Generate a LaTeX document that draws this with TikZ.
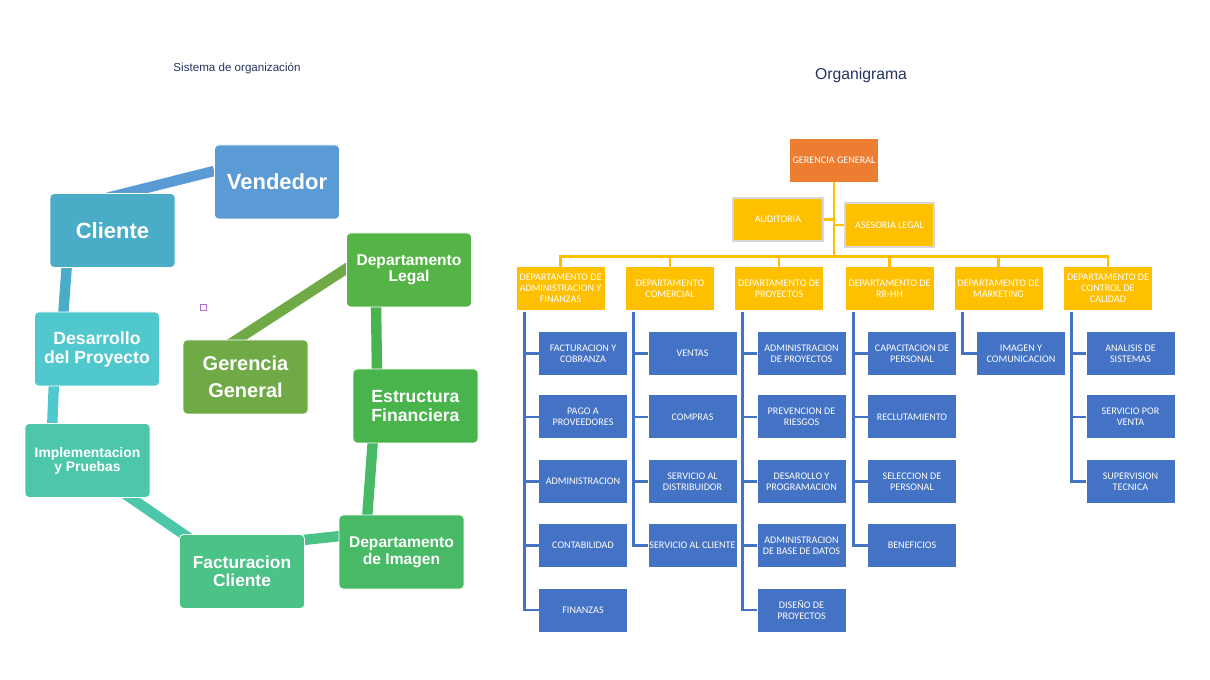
\documentclass[tikz,border=0pt]{standalone}
\usepackage{fontspec}
\setmainfont{Liberation Sans}
\newfontfamily\calfont{Carlito}
\usetikzlibrary{calc,backgrounds}
\definecolor{cvend}{RGB}{91,155,213}
\definecolor{ccli}{RGB}{75,172,200}
\definecolor{cdes}{RGB}{80,200,205}
\definecolor{cimp}{RGB}{77,199,170}
\definecolor{cfac}{RGB}{75,195,135}
\definecolor{cimg}{RGB}{72,185,100}
\definecolor{cest}{RGB}{72,180,75}
\definecolor{cleg}{RGB}{85,180,70}
\definecolor{cger}{RGB}{112,170,70}
\definecolor{orgor}{RGB}{237,125,49}
\definecolor{orgye}{RGB}{255,192,0}
\definecolor{orgbl}{RGB}{68,114,196}
\definecolor{orgbd}{RGB}{215,215,215}
\definecolor{ttl}{RGB}{38,52,96}
\definecolor{mkc}{RGB}{175,110,205}
\begin{document}
\begin{tikzpicture}[x=0.75pt,y=-0.75pt,
  cyc/.style={rectangle, rounded corners=3pt, draw=white, line width=0.6pt, text=white,
    align=center, minimum width=93.75pt, minimum height=55.5pt, inner sep=0pt},
  link/.style={line width=7.8pt},
  org/.style={rectangle, text=white, font=\calfont\fontsize{7.6}{8.4}\selectfont,
    align=center, minimum width=66pt, minimum height=32.25pt, inner sep=0pt},
  dept/.style={org, fill=orgye},
  sub/.style={org, fill=orgbl},
  yl/.style={draw=orgye, line width=2pt},
  bl/.style={draw=orgbl, line width=2pt}]
\useasboundingbox (0,0) rectangle (1210,680);

% titles
\node[text=ttl, font=\fontsize{8.7}{10}\selectfont] (t1) at (237,68) {Sistema de organización};
\node[text=ttl, font=\fontsize{11.8}{13}\selectfont] (t2) at (861,75) {Organigrama};

% ---------- left cycle ----------
\node[cyc, fill=cvend, font=\bfseries\fontsize{16.5}{19}\selectfont] (vend) at (277,182) {Vendedor};
\node[cyc, fill=ccli, font=\bfseries\fontsize{16.5}{19}\selectfont] (cli) at (112.5,230.5) {Cliente};
\node[cyc, fill=cdes, font=\bfseries\fontsize{13.2}{14.2}\selectfont] (des) at (97,349) {Desarrollo\\del Proyecto};
\node[cyc, fill=cimp, font=\bfseries\fontsize{10.4}{10.6}\selectfont] (imp) at (87.5,460.5) {Implementacion\\y Pruebas};
\node[cyc, fill=cfac, font=\bfseries\fontsize{13}{13.6}\selectfont] (fac) at (242,571.5) {Facturacion\\Cliente};
\node[cyc, fill=cimg, font=\bfseries\fontsize{11.7}{12.5}\selectfont] (img) at (401.5,552) {Departamento\\de Imagen};
\node[cyc, fill=cest, font=\bfseries\fontsize{13.2}{13.8}\selectfont] (est) at (415.5,406) {Estructura\\Financiera};
\node[cyc, fill=cleg, font=\bfseries\fontsize{11.7}{12.3}\selectfont] (leg) at (409,270) {Departamento\\Legal};
\node[cyc, fill=cger, font=\bfseries\fontsize{15}{20}\selectfont] (ger) at (245.5,377) {Gerencia\\General};
\node[draw=mkc, line width=0.5pt, minimum size=4.5pt, inner sep=0pt] (mk) at (203,307) {};

\begin{scope}[on background layer]
\fill[white] (0,0) rectangle (1210,680);
\draw[link, cvend] ($(vend.west)+(0,-11)$) -- ($(cli.north)+(-10.5,6)$);
\draw[link, ccli] ($(cli.south)+(-45.5,-5)$) -- ($(des.north)+(-34,6)$);
\draw[link, cdes] ($(des.south)+(-43,-6)$) -- ($(imp.north)+(-35.5,7)$);
\draw[link, cimp] ($(imp.south)+(34.5,-6)$) -- ($(fac.north)+(-47,8)$);
\draw[link, cfac] ($(fac.east)+(-6,-31)$) -- ($(img.west)+(6,-16.5)$);
\draw[link, cimg] ($(img.north)+(-34.5,5)$) -- ($(est.south)+(-42.5,-5)$);
\draw[link, cest] ($(est.north)+(-38.5,5)$) -- ($(leg.south)+(-33,-5)$);
\draw[link, cger] ($(leg.west)+(5,-4.5)$) -- ($(ger.north)+(-15.5,4.5)$);
\end{scope}

% ---------- org chart ----------
\node[org, fill=orgor] (gg) at (834,160.5) {GERENCIA GENERAL};
\node[org, fill=orgye, draw=orgbd, line width=1.4pt, minimum width=67.5pt] (aud) at (778,219.5) {AUDITORIA};
\node[org, fill=orgye, draw=orgbd, line width=1.4pt, minimum width=66.75pt, minimum height=33pt] (ase) at (889.5,225) {ASESORIA LEGAL};

\node[dept] (d1) at (560.5,288.5) {DEPARTAMENTO DE\\ADMINISTRACION Y\\FINANZAS};
\node[dept] (d2) at (670,288.5) {DEPARTAMENTO\\COMERCIAL};
\node[dept] (d3) at (779,288.5) {DEPARTAMENTO DE\\PROYECTOS};
\node[dept] (d4) at (889.5,288.5) {DEPARTAMENTO DE\\RR-HH};
\node[dept] (d5) at (998.5,288.5) {DEPARTAMENTO DE\\MARKETING};
\node[dept] (d6) at (1108,288.5) {DEPARTAMENTO DE\\CONTROL DE\\CALIDAD};

\coordinate (bus) at ($(gg.south)+(0,74)$);
\draw[yl] (gg.south) -- (bus);
\draw[yl] (aud.east) -- (aud.east -| gg.south);
\draw[yl] (ase.west) -- (ase.west -| gg.south);
\foreach \d in {d1,d2,d3,d4,d5,d6} {\draw[yl] (bus) -| (\d.north);}

% column 1
\node[sub] (s11) at (583,353.5) {FACTURACION Y\\COBRANZA};
\node[sub] (s12) at (583,417) {PAGO A\\PROVEEDORES};
\node[sub] (s13) at (583,481.5) {ADMINISTRACION};
\node[sub] (s14) at (583,545.5) {CONTABILIDAD};
\node[sub] (s15) at (583,610) {FINANZAS};
% column 2
\node[sub] (s21) at (692.5,353.5) {VENTAS};
\node[sub] (s22) at (692.5,417) {COMPRAS};
\node[sub] (s23) at (692.5,481.5) {SERVICIO AL\\DISTRIBUIDOR};
\node[sub] (s24) at (692.5,545.5) {SERVICIO AL CLIENTE};
% column 3
\node[sub] (s31) at (801.5,353.5) {ADMINISTRACION\\DE PROYECTOS};
\node[sub] (s32) at (801.5,417) {PREVENCION DE\\RIESGOS};
\node[sub] (s33) at (801.5,481.5) {DESAROLLO Y\\PROGRAMACION};
\node[sub] (s34) at (801.5,545.5) {ADMINISTRACION\\DE BASE DE DATOS};
\node[sub] (s35) at (801.5,610) {DISEÑO DE\\PROYECTOS};
% column 4
\node[sub] (s41) at (912,353.5) {CAPACITACION DE\\PERSONAL};
\node[sub] (s42) at (912,417) {RECLUTAMIENTO};
\node[sub] (s43) at (912,481.5) {SELECCION DE\\PERSONAL};
\node[sub] (s44) at (912,545.5) {BENEFICIOS};
% column 5
\node[sub] (s51) at (1021,353.5) {IMAGEN Y\\COMUNICACION};
% column 6
\node[sub] (s61) at (1130.5,353.5) {ANALISIS DE\\SISTEMAS};
\node[sub] (s62) at (1130.5,417) {SERVICIO POR\\VENTA};
\node[sub] (s63) at (1130.5,481.5) {SUPERVISION\\TECNICA};

\foreach \d/\s in {d1/s11,d1/s12,d1/s13,d1/s14,d1/s15,
                   d2/s21,d2/s22,d2/s23,d2/s24,
                   d3/s31,d3/s32,d3/s33,d3/s34,d3/s35,
                   d4/s41,d4/s42,d4/s43,d4/s44,
                   d5/s51,
                   d6/s61,d6/s62,d6/s63}
  {\draw[bl] ($(\d.south west)+(8,2)$) |- (\s.west);}
\end{tikzpicture}
\end{document}
